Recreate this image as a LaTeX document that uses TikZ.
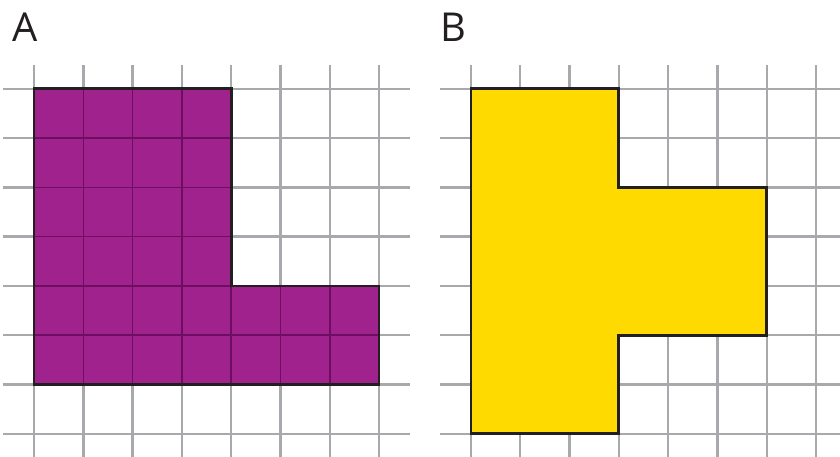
\documentclass[tikz,border=0pt]{standalone}
\usepackage{fontspec}
\setsansfont{Open Sans}
\definecolor{gridgray}{HTML}{A8A9AD}
\definecolor{plumfill}{HTML}{A0228D}
\definecolor{plumdark}{HTML}{6E0E62}
\definecolor{sunfill}{HTML}{FFDA00}
\definecolor{edgeblack}{HTML}{231F20}

\begin{document}
\begin{tikzpicture}[
  grid line/.style={
    draw=gridgray,
    line width=1.4pt
  },
  cell line/.style={
    draw=plumdark,
    line width=0.9pt
  },
  shape edge/.style={
    draw=edgeblack,
    line width=1.6pt,
    line join=miter
  },
  panel label/.style={
    font=\sffamily\fontsize{23}{23}\selectfont,
    text=edgeblack,
    inner sep=0pt
  },
]
\useasboundingbox (-0.69,-0.467) rectangle (16.35,8.80);
% panel A
\foreach \k in {0,...,7} {
  \draw[grid line] (\k,-0.5) -- (\k,7.48);
  \draw[grid line] (-0.63,\k) -- (7.63,\k);
}
\fill[plumfill] (0,1) -- (0,7) -- (4,7) -- (4,3) -- (7,3) -- (7,1) -- cycle;
\begin{scope}
  \clip (0,1) -- (0,7) -- (4,7) -- (4,3) -- (7,3) -- (7,1) -- cycle;
  \draw[cell line] (0,1) grid (7,7);
\end{scope}
\draw[shape edge] (0,1) -- (0,7) -- (4,7) -- (4,3) -- (7,3) -- (7,1) -- cycle;
\node[panel label] (labelA) at (-0.19,8.245) {A};
% panel B
\begin{scope}[xshift=8.864cm]
  \foreach \k in {0,...,7} {
    \draw[grid line] (\k,-0.5) -- (\k,7.48);
    \draw[grid line] (-0.63,\k) -- (7.6,\k);
  }
  \fill[sunfill] (0,0) -- (0,7) -- (3,7) -- (3,5) -- (6,5) -- (6,2) -- (3,2) -- (3,0) -- cycle;
  \draw[shape edge] (0,0) -- (0,7) -- (3,7) -- (3,5) -- (6,5) -- (6,2) -- (3,2) -- (3,0) -- cycle;
  \node[panel label] (labelB) at (-0.364,8.245) {B};
\end{scope}
\end{tikzpicture}
\end{document}
